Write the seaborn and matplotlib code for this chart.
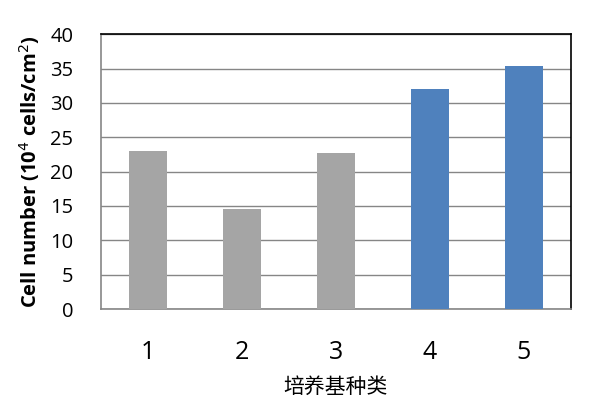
import matplotlib
matplotlib.use("Agg")
import matplotlib.pyplot as plt
import seaborn as sns
import pandas as pd

categories = ["1", "2", "3", "4", "5"]
values = [23.0, 14.5, 22.7, 32.0, 35.4]
colors = ["#A5A5A5", "#A5A5A5", "#A5A5A5", "#4F81BD", "#4F81BD"]
yticks = [0, 5, 10, 15, 20, 25, 30, 35, 40]

sns.set_theme(style="white")
plt.rcParams['font.family'] = ['Open Sans', 'Noto Sans CJK SC', 'DejaVu Sans']
plt.rcParams['text.color'] = 'black'
plt.rcParams['axes.labelcolor'] = 'black'
plt.rcParams['xtick.color'] = 'black'
plt.rcParams['ytick.color'] = 'black'

df = pd.DataFrame({"medium": categories, "cells": values})

fig = plt.figure(figsize=(5.99, 4.01), dpi=100)
ax = fig.add_axes([0.1686, 0.2294, 0.953 - 0.1686, 0.9145 - 0.2294])

sns.barplot(data=df, x="medium", y="cells", hue="medium", palette=colors,
            legend=False, width=0.4, saturation=1, linewidth=0, ax=ax, zorder=3)

ax.set_ylim(0, 40)
ax.set_yticks(yticks)
ax.set_xlim(-0.5, 4.5)
ax.yaxis.grid(True, color="#868686", linewidth=1, zorder=0)
ax.set_axisbelow(True)
ax.tick_params(axis="y", labelsize=14.5, length=0, pad=20, labelcolor="black")
ax.tick_params(axis="x", labelsize=18, length=0, pad=22, labelcolor="black")
for s in ["left", "bottom"]:
    ax.spines[s].set_color("#868686")
    ax.spines[s].set_linewidth(1.2)
for s in ["top", "right"]:
    ax.spines[s].set_color("#000000")
    ax.spines[s].set_linewidth(1.2)

ax.set_xlabel("培养基种类", fontsize=15, family=['Noto Sans CJK SC', 'DejaVu Sans'],
              labelpad=8, color="black")
ax.set_ylabel(r"Cell number (10$^{4}$ cells/cm$^{2}$)", fontsize=14.5,
              fontweight="bold", labelpad=6, color="black")

fig.savefig("out.png", dpi=100)
